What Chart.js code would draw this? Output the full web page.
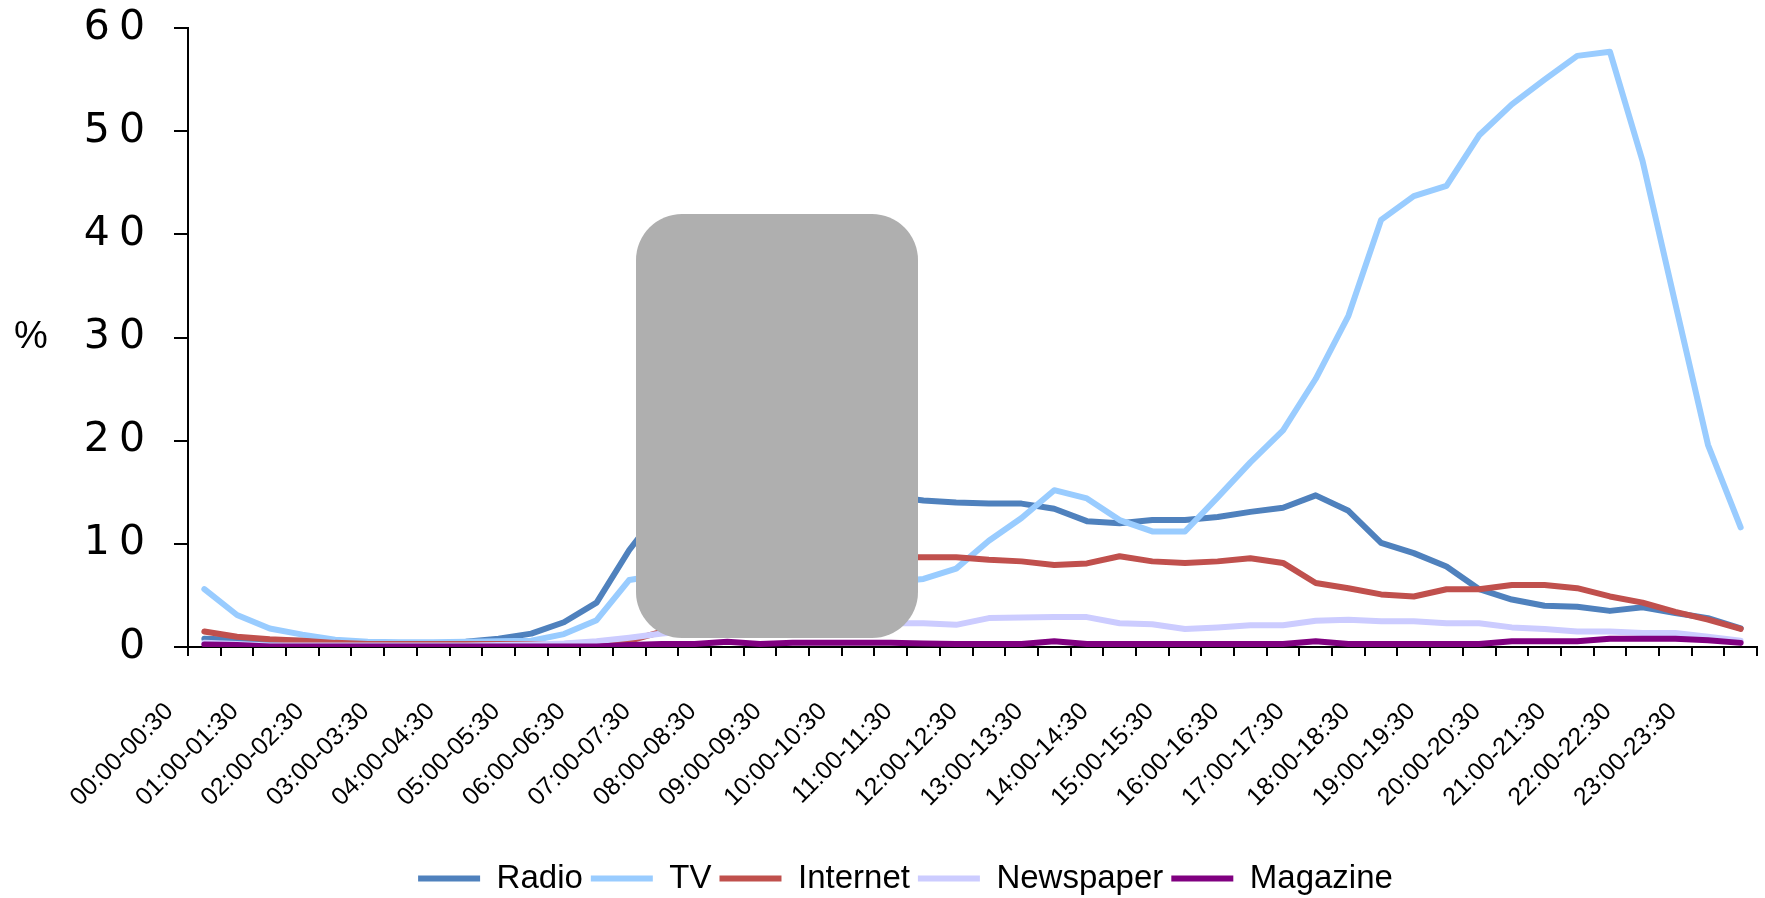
<!DOCTYPE html>
<html>
<head>
<meta charset="utf-8">
<script src="https://cdn.jsdelivr.net/npm/chart.js@4.4.1/dist/chart.umd.min.js"></script>
<style>
  html, body { margin: 0; padding: 0; background: #fff; }
  #wrap { width: 1765px; height: 898px; position: relative; }
</style>
</head>
<body>
<div id="wrap"><canvas id="chart"></canvas></div>
<script>
const timeSlots = [
  '00:00-00:30', '00:30-01:00', '01:00-01:30', '01:30-02:00', '02:00-02:30', '02:30-03:00',
  '03:00-03:30', '03:30-04:00', '04:00-04:30', '04:30-05:00', '05:00-05:30', '05:30-06:00',
  '06:00-06:30', '06:30-07:00', '07:00-07:30', '07:30-08:00', '08:00-08:30', '08:30-09:00',
  '09:00-09:30', '09:30-10:00', '10:00-10:30', '10:30-11:00', '11:00-11:30', '11:30-12:00',
  '12:00-12:30', '12:30-13:00', '13:00-13:30', '13:30-14:00', '14:00-14:30', '14:30-15:00',
  '15:00-15:30', '15:30-16:00', '16:00-16:30', '16:30-17:00', '17:00-17:30', '17:30-18:00',
  '18:00-18:30', '18:30-19:00', '19:00-19:30', '19:30-20:00', '20:00-20:30', '20:30-21:00',
  '21:00-21:30', '21:30-22:00', '22:00-22:30', '22:30-23:00', '23:00-23:30', '23:30-24:00'
];

const radio = [
  0.8, 0.7, 0.6, 0.6, 0.4, 0.3, 0.3, 0.3, 0.5, 0.8, 1.3, 2.4,
  4.3, 9.4, 13.5, 16.5, 17.5, 17.0, 16.0, 15.5, 15.0, 14.6, 14.2, 14.0,
  13.9, 13.9, 13.4, 12.2, 12.0, 12.3, 12.3, 12.6, 13.1, 13.5, 14.7, 13.2,
  10.1, 9.1, 7.8, 5.6, 4.6, 4.0, 3.9, 3.5, 3.85, 3.3, 2.8, 1.8
];

const tv = [
  5.6, 3.1, 1.8, 1.2, 0.7, 0.5, 0.45, 0.45, 0.5, 0.55, 0.6, 1.25,
  2.6, 6.5, 7.0, 6.5, 6.0, 5.5, 5.5, 5.8, 6.0, 6.3, 6.6, 7.6,
  10.3, 12.5, 15.2, 14.4, 12.3, 11.2, 11.2, 14.5, 17.9, 21.0, 26.0, 32.1,
  41.4, 43.7, 44.7, 49.6, 52.6, 55.0, 57.3, 57.7, 47.1, 33.3, 19.6, 11.6
];

const internet = [
  1.5, 1.0, 0.75, 0.6, 0.4, 0.3, 0.3, 0.3, 0.3, 0.3, 0.3, 0.3,
  0.4, 0.6, 1.5, 3.5, 5.5, 7.0, 8.0, 8.5, 8.6, 8.7, 8.7, 8.7,
  8.45, 8.3, 7.95, 8.1, 8.8, 8.3, 8.15, 8.3, 8.6, 8.15, 6.2, 5.7,
  5.1, 4.9, 5.6, 5.6, 6.0, 6.0, 5.7, 4.9, 4.3, 3.4, 2.65, 1.75
];

const newspaper = [
  0.4, 0.3, 0.15, 0.15, 0.15, 0.15, 0.15, 0.15, 0.15, 0.2, 0.25, 0.35,
  0.55, 0.9, 1.3, 1.6, 1.8, 2.0, 2.1, 2.2, 2.3, 2.3, 2.3, 2.15,
  2.8, 2.85, 2.9, 2.9, 2.3, 2.2, 1.75, 1.9, 2.1, 2.1, 2.55, 2.65,
  2.5, 2.5, 2.3, 2.3, 1.9, 1.75, 1.5, 1.5, 1.35, 1.35, 1.0, 0.6
];

const magazine = [
  0.25, 0.2, 0.05, 0.05, 0.05, 0.05, 0.05, 0.05, 0.05, 0.05, 0.05, 0.05,
  0.05, 0.2, 0.3, 0.3, 0.5, 0.3, 0.4, 0.4, 0.4, 0.4, 0.35, 0.3,
  0.3, 0.3, 0.55, 0.3, 0.3, 0.3, 0.3, 0.3, 0.3, 0.3, 0.55, 0.3,
  0.3, 0.3, 0.3, 0.3, 0.55, 0.55, 0.55, 0.8, 0.8, 0.8, 0.65, 0.4
];

const yTicks = [0, 10, 20, 30, 40, 50, 60];

const FONT_ARIAL = "'Liberation Sans', Arial, sans-serif";

const makeSeries = (label, data, color, order) => ({
  label,
  data,
  borderColor: color,
  backgroundColor: color,
  borderWidth: 6,
  borderCapStyle: 'round',
  borderJoinStyle: 'round',
  pointRadius: 0,
  pointHoverRadius: 0,
  pointStyle: 'line',
  tension: 0,
  fill: false,
  order
});

// the value axis numbers are spaced out in the original
const spacedYLabels = {
  id: 'spacedYLabels',
  beforeDraw(chart) {
    const yScale = chart.scales.y;
    if (!yScale || yScale._spaced) return;
    const drawLabels = yScale.drawLabels;
    yScale.drawLabels = function (area) {
      this.ctx.save();
      this.ctx.letterSpacing = '9px';
      drawLabels.call(this, area);
      this.ctx.restore();
    };
    yScale._spaced = true;
  }
};

// grey rounded panel sitting over the morning section, plus the "%" axis name
const overlayPlugin = {
  id: 'overlay',
  afterDraw(chart) {
    const { ctx } = chart;
    const yScale = chart.scales.y;
    ctx.save();
    ctx.fillStyle = '#000';
    ctx.font = `38px ${FONT_ARIAL}`;
    ctx.textAlign = 'center';
    ctx.textBaseline = 'middle';
    ctx.fillText('%', 31, yScale.getPixelForValue(30));

    ctx.fillStyle = '#afafaf';
    ctx.beginPath();
    ctx.roundRect(636, 214, 282, 424, 46);
    ctx.fill();
    ctx.restore();
  }
};

const canvas = document.getElementById('chart');

new Chart(canvas, {
  type: 'line',
  data: {
    labels: timeSlots,
    datasets: [
      makeSeries('Radio', radio, '#4f81bd', 4),
      makeSeries('TV', tv, '#99ccff', 3),
      makeSeries('Internet', internet, '#c0504d', 2),
      makeSeries('Newspaper', newspaper, '#ccccff', 1),
      makeSeries('Magazine', magazine, '#800080', 0)
    ]
  },
  options: {
    responsive: true,
    maintainAspectRatio: false,
    animation: false,
    layout: {
      padding: { top: 28, right: 8, bottom: -7, left: 54 }
    },
    plugins: {
      tooltip: { enabled: false },
      legend: {
        position: 'bottom',
        labels: {
          usePointStyle: true,
          pointStyleWidth: 62,
          padding: 8,
          color: '#000',
          font: { family: FONT_ARIAL, size: 33 },
          sort: (a, b) => a.datasetIndex - b.datasetIndex
        }
      }
    },
    scales: {
      x: {
        type: 'category',
        offset: true,
        afterFit: (scale) => {
          scale.height = 207;
          scale.paddingLeft = 0;
          scale.paddingRight = 0;
        },
        grid: {
          offset: true,
          drawOnChartArea: false,
          color: '#000',
          lineWidth: 2,
          tickLength: 9
        },
        border: { color: '#000', width: 2 },
        ticks: {
          autoSkip: false,
          maxRotation: 45,
          minRotation: 45,
          padding: 41,
          labelOffset: -35,
          color: '#000',
          font: { family: FONT_ARIAL, size: 25 },
          callback: (value, index) => (index % 2 === 0 ? timeSlots[index] : '')
        }
      },
      y: {
        min: 0,
        max: 60,
        afterFit: (scale) => {
          scale.width = 134;
          scale.paddingTop = 0;
          scale.paddingBottom = 0;
        },
        afterBuildTicks: (scale) => {
          scale.ticks = yTicks.map((v) => ({ value: v }));
        },
        grid: {
          drawOnChartArea: false,
          color: '#000',
          lineWidth: 2,
          tickLength: 14
        },
        border: { color: '#000', width: 2 },
        ticks: {
          padding: 20,
          color: '#000',
          font: { family: "'DejaVu Sans', Verdana, sans-serif", size: 41 }
        }
      }
    }
  },
  plugins: [spacedYLabels, overlayPlugin]
});
</script>
</body>
</html>
